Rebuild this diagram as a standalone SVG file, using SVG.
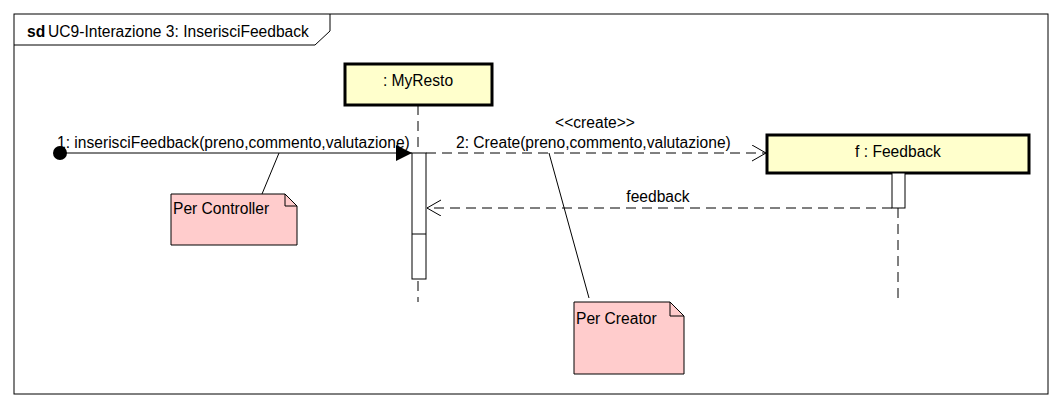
<svg xmlns="http://www.w3.org/2000/svg" width="1062" height="408" viewBox="0 0 1062 408">
<defs>
<style>
text{font-family:"Liberation Sans",Arial,sans-serif;font-size:15.6px;fill:#000}
.frame{fill:#fff;stroke:#000;stroke-width:1}
.obj{fill:#ffffcc;stroke:#000;stroke-width:3}
.act{fill:#fff;stroke:#000;stroke-width:1}
.life{stroke:#000;stroke-width:1;stroke-dasharray:10,6;fill:none}
.note{fill:#ffcccc;stroke:#000;stroke-width:1}
.solid{stroke:#000;stroke-width:1;fill:none}
.dash{stroke:#000;stroke-width:1;stroke-dasharray:10,6;fill:none}
</style>
<marker id="filled" markerWidth="18" markerHeight="18" refX="16" refY="8" orient="auto" markerUnits="userSpaceOnUse">
<path d="M0,0 L16,8 L0,16 Z" fill="#000"/>
</marker>
<marker id="open" markerWidth="16" markerHeight="18" refX="14" refY="8" orient="auto" markerUnits="userSpaceOnUse">
<path d="M0,0 L14,8 L0,16" fill="none" stroke="#000" stroke-width="1"/>
</marker>
</defs>
<rect width="1062" height="408" fill="#fff"/>
<g id="frame">
<rect class="frame" x="14" y="14" width="1034" height="380"/>
<path class="solid" d="M14,45 L315,45 L330,31 L330,14"/>
<text x="27" y="37" style="font-weight:bold">sd</text>
<text x="48" y="37">UC9-Interazione 3: InserisciFeedback</text>
</g>
<g id="myresto">
<line class="life" x1="418" y1="105" x2="418" y2="302"/>
<rect class="obj" x="345" y="64" width="147" height="41"/>
<text x="418" y="86" text-anchor="middle">: MyResto</text>
<rect class="act" x="412" y="153" width="14" height="126"/>
<line class="solid" x1="412" y1="234" x2="426" y2="234"/>
</g>
<g id="feedback">
<line class="life" x1="898" y1="208" x2="898" y2="302"/>
<rect class="obj" x="767" y="135" width="262" height="38"/>
<text x="898" y="157" text-anchor="middle">f : Feedback</text>
<rect class="act" x="892" y="173" width="13" height="35"/>
</g>
<g id="note-controller">
<path class="note" d="M171,194 L285,194 L297,206 L297,245 L171,245 Z"/>
<path class="solid" d="M285,194 L285,206 L297,206"/>
<text x="173" y="214">Per Controller</text>
</g>
<g id="note-creator">
<path class="note" d="M574,302 L670,302 L684,316 L684,374 L574,374 Z"/>
<path class="solid" d="M670,302 L670,316 L684,316"/>
<text x="576" y="324">Per Creator</text>
</g>
<g id="connectors">
<circle cx="60" cy="153" r="7" fill="#000"/>
<line class="solid" x1="60" y1="153" x2="412" y2="153" marker-end="url(#filled)"/>
<text x="57" y="148">1: inserisciFeedback(preno,commento,valutazione)</text>
<line class="dash" x1="426" y1="153" x2="766" y2="153" marker-end="url(#open)"/>
<text x="595" y="128" text-anchor="middle">&lt;&lt;create&gt;&gt;</text>
<text x="456" y="148">2: Create(preno,commento,valutazione)</text>
<line class="dash" x1="892" y1="208" x2="427" y2="208" marker-end="url(#open)"/>
<text x="658" y="202" text-anchor="middle">feedback</text>
<line class="solid" x1="262" y1="194" x2="279" y2="153"/>
<line class="solid" x1="589" y1="298" x2="549" y2="153"/>
</g>
</svg>
